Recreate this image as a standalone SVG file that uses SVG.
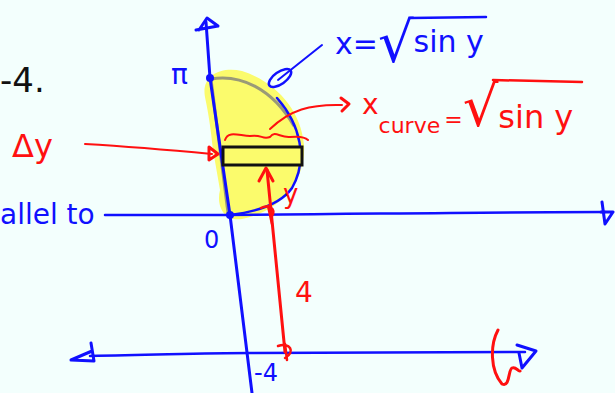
<svg xmlns="http://www.w3.org/2000/svg" width="615" height="393" viewBox="0 0 615 393">
<style>
.b{stroke:#1010ff;fill:none;stroke-linecap:round;stroke-linejoin:round}
.r{stroke:#ff1010;fill:none;stroke-linecap:round;stroke-linejoin:round}
.tb{fill:#1010ff;font-family:"DejaVu Sans",sans-serif}
.tr{fill:#ff1010;font-family:"DejaVu Sans",sans-serif}
.tk{fill:#111;font-family:"DejaVu Sans",sans-serif}
</style>
<rect width="615" height="393" fill="#f3fffd"/>
<path d="M205,97 C201,76 220,66 242,71 C276,82 301,110 304,145 C306,180 282,211 242,219 C224,222 216,206 220,190 L213,150 C210,120 207,107 205,97 Z" fill="#fbfb6c"/>
<path d="M211,79 L228,213" stroke="#9a9a78" stroke-width="3" fill="none"/>
<path d="M211,79 C240,74 272,88 294,126" stroke="#9a9a78" stroke-width="3" fill="none"/>
<path class="b" stroke-width="2.5" d="M277,98 C301,125 308,160 292,188 C280,205 255,212 230,215"/>
<g id="connectors">
<path class="b" stroke-width="3" d="M206,22 L210,78 L230,215 L252,393"/>
<path class="b" stroke-width="3" d="M199,30 L207,18 L218,26 L196,30"/>
<path class="b" stroke-width="2.5" d="M105,215 C250,216 450,212 605,212"/>
<path class="b" stroke-width="3" d="M602,202 L605,224 L613,212 L601,212"/>
<path class="b" stroke-width="2.5" d="M90,356 C160,355 200,353 250,353 L525,352"/>
<path class="b" stroke-width="3" d="M91,343 L94,361 L71,360 L92,351"/>
<path class="b" stroke-width="3" d="M517,345 L536,351 L522,368 L519,353"/>
<circle cx="210" cy="78" r="4" fill="#1010ff"/>
<circle cx="230" cy="215" r="4" fill="#1010ff"/>
<path class="b" stroke-width="2" d="M322,45 L278,80"/>
<ellipse cx="280" cy="78" rx="13" ry="6" transform="rotate(-35 280 78)" class="b" stroke-width="2.5"/>
<path class="r" stroke-width="2" d="M85,144 C120,146 170,150 212,154"/>
<path class="r" stroke-width="3" d="M209,147 L218,154 L209,160 Z"/>
<path class="r" stroke-width="2" d="M270,129 C290,110 310,104 342,105"/>
<path class="r" stroke-width="3" d="M341,98 L349,104 L342,111"/>
<path class="r" stroke-width="2" d="M225,140 C228,130 240,136 250,136 C262,134 262,140 270,137 C275,130 280,138 290,137 C300,136 305,137 308,140"/>
<path class="r" stroke-width="3" d="M285,352 L267,170"/>
<path class="r" stroke-width="3" d="M259,181 L266,168 L273,181"/>
<path class="r" stroke-width="2.5" d="M261,208 C268,204 277,209 272,216 M268,206 L272,224"/>
<path class="r" stroke-width="2.5" d="M278,346 C290,342 296,352 285,358 M285,344 L287,360"/>
<path class="r" stroke-width="3" d="M498,330 C490,345 490,370 502,384 C510,388 508,370 512,368 C516,366 518,372 520,371"/>
</g>
<g id="strip"><rect x="223" y="147" width="79" height="18" fill="#fbfb6c" stroke="#111" stroke-width="3"/></g>
<g id="labels">
<text x="0" y="92" class="tk" font-size="34">-4.</text>
<text x="171" y="84" class="tb" font-size="28">π</text>
<text x="204" y="248" class="tb" font-size="24">0</text>
<text x="0" y="224" class="tb" font-size="28">allel to</text>
<text x="254" y="381" class="tb" font-size="24">-4</text>
<text x="335" y="54" class="tb" font-size="30">x=<tspan font-size="56" dy="8">√</tspan><tspan dy="-10">sin y</tspan></text>
<path class="b" stroke-width="2.5" d="M410,18 L486,17"/>
<text x="12" y="157" class="tr" font-size="32">Δy</text>
<text x="283" y="203" class="tr" font-size="26">y</text>
<text x="295" y="302" class="tr" font-size="28">4</text>
<text x="362" y="114" class="tr" font-size="28">x<tspan font-size="22" dy="19">curve</tspan><tspan font-size="22" dy="-6" dx="4">=</tspan><tspan font-size="56" dy="-1">√</tspan><tspan font-size="32" dy="2">sin y</tspan></text>
<path class="r" stroke-width="2.5" d="M493,80 L582,82"/>
</g>
</svg>
